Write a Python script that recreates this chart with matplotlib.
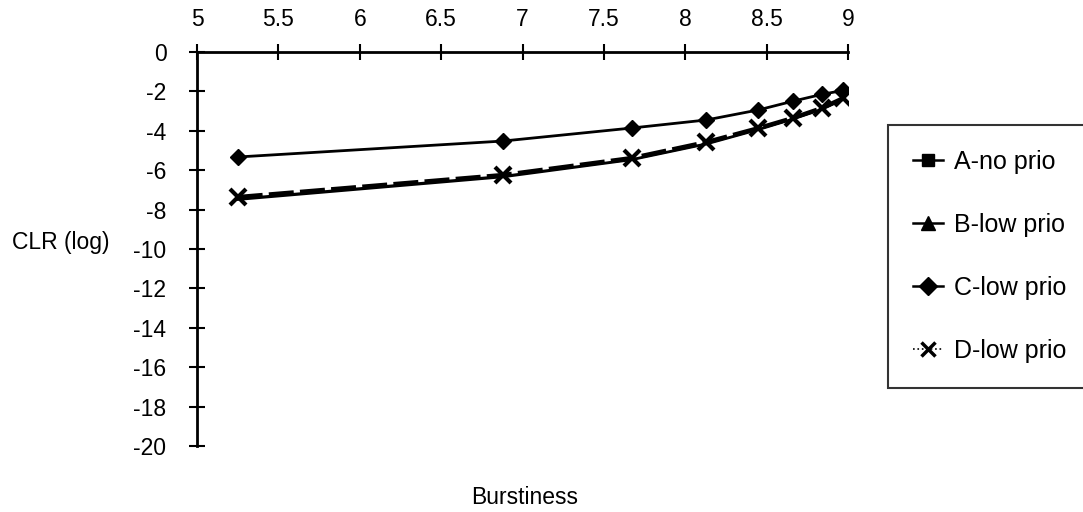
import matplotlib
matplotlib.use("Agg")
import matplotlib.pyplot as plt
from matplotlib.lines import Line2D
import numpy as np

plt.rcParams['font.family'] = ['Liberation Sans', 'DejaVu Sans']

burstiness = [5.25, 6.88, 7.67, 8.13, 8.45, 8.66, 8.84, 8.97]
clr_a = [-7.45, -6.30, -5.45, -4.65, -3.92, -3.40, -2.90, -2.40]
clr_b = [-7.50, -6.35, -5.48, -4.68, -3.95, -3.42, -2.92, -2.42]
clr_c = [-5.33, -4.52, -3.86, -3.45, -2.94, -2.50, -2.15, -1.95]
clr_d = [-7.36, -6.24, -5.38, -4.57, -3.86, -3.35, -2.84, -2.34]

series_names = ['A-no prio', 'B-low prio', 'C-low prio', 'D-low prio']
xticks = [5, 5.5, 6, 6.5, 7, 7.5, 8, 8.5, 9]
yticks = list(range(0, -21, -2))

FS = 16.5
LFS = 18

fig = plt.figure(figsize=(10.83, 5.12), dpi=100)
ax = fig.add_axes([197/1083, 1-446/512, 651/1083, 394/512])

ax.plot(burstiness, clr_a, color='black', lw=1.6, zorder=2)
ax.plot(burstiness, clr_b, color='black', lw=1.6, zorder=2)
ax.plot(burstiness, clr_c, color='black', lw=2.0, marker='D', markersize=8, zorder=3)
ax.plot(burstiness, clr_d, color='black', lw=3.0, linestyle=(0, (6, 1.5)),
        marker='x', markersize=11, markeredgewidth=3, zorder=4)

ax.set_xlim(5, 9)
ax.set_ylim(-20, 0)
ax.spines['right'].set_visible(False)
ax.spines['bottom'].set_visible(False)
ax.spines['left'].set_linewidth(2)
ax.spines['top'].set_linewidth(2)
ax.xaxis.set_ticks_position('top')
ax.xaxis.set_label_position('bottom')
ax.set_xticks(xticks)
ax.set_xticklabels([f'{t:g}' for t in xticks])
ax.set_yticks(yticks)
ax.set_yticklabels([str(t) for t in yticks])
ax.tick_params(axis='x', direction='inout', length=12, width=1.5, pad=9, labelsize=FS)
ax.tick_params(axis='y', direction='inout', length=12, width=1.5, pad=16, labelsize=FS)
ax.set_facecolor('white')

fig.text(12/1083, 1-243/512, 'CLR (log)', fontsize=FS, ha='left', va='center')
fig.text(525/1083, 1-497/512, 'Burstiness', fontsize=FS, ha='center', va='center')

handles = [
    Line2D([], [], color='black', lw=1.8, marker='s', markersize=9),
    Line2D([], [], color='black', lw=1.8, marker='^', markersize=10),
    Line2D([], [], color='black', lw=1.8, marker='D', markersize=9),
    Line2D([], [], color='black', lw=1.2, linestyle=':', marker='x', markersize=10, markeredgewidth=2.5),
]
leg = fig.legend(handles, series_names, loc='upper left',
                 bbox_to_anchor=(888/1083, 1-125/512), fontsize=LFS,
                 frameon=True, fancybox=False, edgecolor='black',
                 handlelength=1.2, handletextpad=0.45, labelspacing=1.56,
                 borderpad=1.0, borderaxespad=0)
leg.get_frame().set_linewidth(1.5)
leg.get_frame().set_width(260)

fig.savefig('out.png', dpi=100, facecolor='white')
